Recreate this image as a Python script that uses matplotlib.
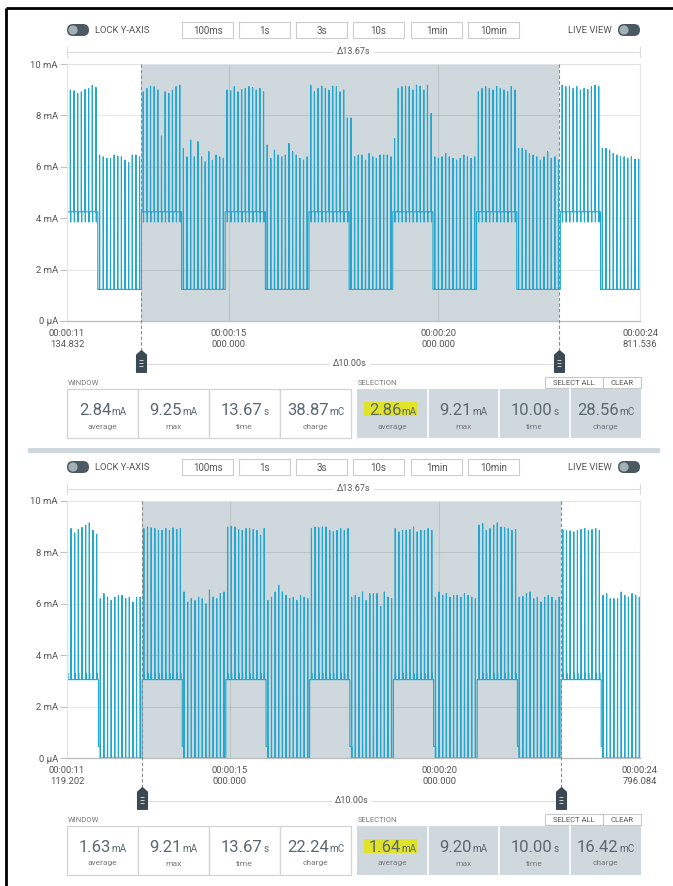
import numpy as np
import matplotlib
matplotlib.use('Agg')
import matplotlib.pyplot as plt
from matplotlib.patches import Rectangle, FancyBboxPatch, Circle
from matplotlib.path import Path

plt.rcParams['font.family'] = ['Roboto', 'DejaVu Sans']

W, H = 673, 886

# ---------------- data ----------------
y_ticks = [0, 2, 4, 6, 8, 10]
y_tick_labels = ['0 µA', '2 mA', '4 mA', '6 mA', '8 mA', '10 mA']
mid_tick_times = [15.0, 20.0]
mid_tick_labels = ['00:00:15\n000.000', '00:00:20\n000.000']
buttons = ['100ms', '1s', '3s', '10s', '1min', '10min']
stat_labels = ['average', 'max', 'time', 'charge']
stat_units = ['mA', 'mA', 's', 'mC']

# panel 1
p1_window = (11.134832, 24.811536)
p1_edge_labels = ['00:00:11\n134.832', '00:00:24\n811.536']
p1_selection = (12.89, 22.89)
p1_high_starts = [10.91, 12.91, 14.91, 16.91, 18.91, 20.91, 22.91]
p1_high_dur = 0.96
p1_cycle = 2.0
p1_base_high = 4.25
p1_base_low = 1.23
p1_dip_high = 3.85
p1_low_step = 1.23
p1_high_spikes = [
    [9.00, 9.00, 9.00, 8.99, 8.96, 8.86, 8.92, 9.01, 9.05, 9.18, 9.09],
    [8.92, 9.05, 9.14, 9.12, 8.99, 7.20, 8.92, 8.86, 8.99, 9.12, 9.18],
    [8.99, 8.96, 9.12, 8.92, 9.01, 9.05, 9.12, 9.08, 8.99, 9.05, 8.92],
    [9.18, 8.92, 9.05, 9.14, 9.05, 8.99, 9.14, 9.12, 8.92, 8.99, 7.90],
    [7.10, 9.05, 9.12, 9.14, 9.12, 8.99, 9.18, 9.14, 8.99, 9.18, 8.08],
    [8.92, 9.05, 9.12, 9.05, 8.99, 9.12, 9.05, 8.99, 8.92, 9.12, 8.99],
    [9.18, 9.12, 9.14, 9.05, 9.12, 8.99, 9.05, 9.01, 9.12, 9.18, 9.12],
]
p1_low_spikes = [
    [6.46, 6.39, 6.33, 6.33, 6.46, 6.42, 6.39, 6.26, 6.16, 6.46, 6.46, 6.39],
    [6.72, 6.39, 7.04, 6.39, 6.98, 6.39, 6.20, 6.59, 6.26, 6.46, 6.39, 6.33],
    [6.85, 6.33, 6.65, 6.46, 6.39, 6.46, 6.91, 6.59, 6.46, 6.33, 6.26, 6.39],
    [7.90, 6.39, 6.46, 6.46, 6.26, 6.52, 6.39, 6.33, 6.46, 6.46, 6.46, 6.39],
    [6.39, 6.33, 6.39, 6.52, 6.39, 6.33, 6.26, 6.33, 6.46, 6.39, 6.33, 6.39],
    [6.72, 6.72, 6.65, 6.52, 6.46, 6.39, 6.26, 6.39, 6.59, 6.33, 6.39, 6.26],
    [6.72, 6.72, 6.65, 6.52, 6.46, 6.39, 6.39, 6.33, 6.39, 6.30, 6.30, 6.25],
]
p1_window_values = ['2.84', '9.25', '13.67', '38.87']
p1_selection_values = ['2.86', '9.21', '10.00', '28.56']

# panel 2
p2_window = (11.119202, 24.796084)
p2_edge_labels = ['00:00:11\n119.202', '00:00:24\n796.084']
p2_selection = (12.92, 22.92)
p2_high_starts = [10.91, 12.91, 14.91, 16.91, 18.91, 20.91, 22.91]
p2_high_dur = 0.96
p2_cycle = 2.0
p2_base_high = 3.05
p2_base_low = 0.0
p2_dip_high = 3.30
p2_low_step = 0.45
p2_high_spikes = [
    [8.90, 8.90, 8.90, 8.93, 8.76, 8.89, 8.97, 9.06, 9.15, 8.86, 8.71],
    [8.93, 8.99, 8.96, 8.93, 8.86, 8.86, 8.93, 8.86, 8.96, 8.89, 8.93],
    [8.99, 9.02, 8.99, 8.89, 8.86, 8.93, 8.93, 8.89, 8.86, 8.67, 8.93],
    [8.93, 8.99, 8.96, 8.99, 8.99, 8.86, 8.80, 8.86, 8.93, 8.86, 8.93],
    [8.93, 8.80, 8.86, 8.86, 8.89, 8.99, 8.80, 8.86, 8.86, 8.93, 8.86],
    [9.06, 9.12, 8.86, 8.93, 9.06, 9.15, 8.99, 8.96, 8.93, 8.86, 8.89],
    [8.89, 8.86, 8.84, 8.80, 8.86, 8.89, 8.93, 8.86, 8.89, 8.93, 8.86],
]
p2_low_spikes = [
    [6.20, 6.40, 6.26, 6.13, 6.26, 6.33, 6.33, 6.20, 6.26, 6.07, 6.26, 6.26],
    [6.46, 6.07, 6.20, 6.13, 6.26, 6.20, 6.00, 6.54, 6.26, 6.20, 6.40, 6.46],
    [6.13, 6.26, 6.46, 6.72, 6.46, 6.33, 6.20, 6.26, 6.13, 6.33, 6.26, 6.20],
    [6.26, 6.33, 6.26, 6.46, 6.13, 6.40, 6.40, 6.40, 5.90, 6.46, 6.26, 6.20],
    [6.26, 6.46, 6.33, 6.40, 6.26, 6.33, 6.33, 6.26, 6.40, 6.33, 6.26, 6.20],
    [6.26, 6.29, 6.40, 6.46, 6.20, 6.26, 6.07, 6.26, 6.33, 6.26, 6.13, 6.26],
    [6.33, 6.40, 6.20, 6.20, 6.20, 6.46, 6.33, 6.26, 6.40, 6.33, 6.26, 6.26],
]
p2_window_values = ['1.63', '9.21', '13.67', '22.24']
p2_selection_values = ['1.64', '9.20', '10.00', '16.42']

# ---------------- styles ----------------
LINE = '#22a8d0'
SHADE = '#cfd8dc'
TXT = '#5c6870'
LAB = '#7a7a7a'
HANDLE = '#3b4a52'


def build_series(starts, high_dur, cycle, bh, bl, dip, hs, ls, step):
    t, y = [], []
    w = 0.004
    for s, hsp, lsp in zip(starts, hs, ls):
        t.append(s); y.append(bh)
        n = len(hsp)
        for k, pk in enumerate(hsp):
            tc = s + (k + 0.5) * high_dur / n
            t += [tc - w, tc, tc + w, tc + 2 * w, tc + 3 * w]
            y += [bh, pk, bh, dip, bh]
        e = s + high_dur
        t += [e, e, e + 0.05, e + 0.05]
        y += [bh, step, step, bl]
        ld = cycle - high_dur
        m = len(lsp)
        for k, pk in enumerate(lsp):
            tc = e + (k + 0.5) * ld / m
            t += [tc - w, tc, tc + w]
            y += [bl, pk, bl]
        t.append(s + cycle); y.append(bl)
    return np.array(t), np.array(y)


fig = plt.figure(figsize=(W / 100, H / 100), dpi=100)
fig.patch.set_facecolor('white')

ui = fig.add_axes([0, 0, 1, 1], zorder=10)
ui.set_xlim(0, W)
ui.set_ylim(H, 0)
ui.axis('off')
ui.patch.set_alpha(0)

renderer = fig.canvas.get_renderer()

handle_path = Path([(0, 1.0), (0.45, 0.6), (0.45, -1.0), (-0.45, -1.0), (-0.45, 0.6), (0, 1.0)],
                   [Path.MOVETO, Path.LINETO, Path.LINETO, Path.LINETO, Path.LINETO, Path.CLOSEPOLY])


def toggle(x, y):
    ui.add_patch(FancyBboxPatch((x, y - 6), 22, 12, boxstyle='round,pad=0,rounding_size=6',
                                fc='#4b5a62', ec='none'))
    ui.add_patch(Circle((x + 6, y), 4.6, fc='#a3b0b6', ec='none'))


def stat_value(cx, yb, num, unit):
    t1 = ui.text(0, yb, num, fontsize=12, color=TXT, ha='left', va='baseline')
    t2 = ui.text(0, yb, unit, fontsize=7.2, color=TXT, ha='left', va='baseline')
    w1 = t1.get_window_extent(renderer).width
    w2 = t2.get_window_extent(renderer).width
    x0 = cx - (w1 + w2) / 2
    t1.set_x(x0)
    t2.set_x(x0 + w1 + 0.3)


def panel(off, window, edge_labels, selection, starts, high_dur, cycle, bh, bl, dip,
          hs, ls, step, win_vals, sel_vals):
    # toolbar
    toggle(67, 30 + off)
    ui.text(95, 30 + off, 'LOCK Y-AXIS', fontsize=6.8, color='#555', va='center', ha='left')
    bx = [182, 239, 296, 353, 411, 468]
    for x, b in zip(bx, buttons):
        ui.add_patch(Rectangle((x, 22 + off), 51, 16, fc='white', ec='#cccccc', lw=0.8))
        ui.text(x + 25.5, 30.5 + off, b, fontsize=7, color='#555', ha='center', va='center')
    ui.text(612, 30 + off, 'LIVE VIEW', fontsize=6.8, color='#555', va='center', ha='right')
    toggle(618, 30 + off)

    # plot
    ax = fig.add_axes([67 / W, 1 - (321 + off) / H, 573 / W, 257 / H], zorder=2)
    ax.set_xlim(*window)
    ax.set_ylim(0, 10)
    ax.axvspan(selection[0], selection[1], color=SHADE, zorder=0.2, lw=0)
    t, y = build_series(starts, high_dur, cycle, bh, bl, dip, hs, ls, step)
    ax.plot(t, y, color=LINE, lw=0.8, zorder=2)
    ax.set_axisbelow(True)
    ax.set_yticks(y_ticks)
    ax.set_yticklabels(y_tick_labels)
    ax.set_xticks([window[0]] + mid_tick_times + [window[1]])
    ax.set_xticklabels([edge_labels[0]] + mid_tick_labels + [edge_labels[1]], linespacing=1.3)
    ax.tick_params(axis='y', length=5, width=0.8, color='#c0c0c0', labelsize=6.8,
                   labelcolor='#555', pad=1.5)
    ax.tick_params(axis='x', length=0, labelsize=6.8, labelcolor='#555', pad=6)
    ax.grid(True, color='black', alpha=0.09, lw=0.8)
    for sp in ['left', 'right', 'top']:
        ax.spines[sp].set_color('#e3e3e3')
        ax.spines[sp].set_linewidth(0.8)
    ax.spines['bottom'].set_color('#bdbdbd')
    ax.spines['bottom'].set_linewidth(0.9)

    xt = ax.get_xaxis_transform()
    ax.plot([window[0], window[1]], [1.047, 1.047], transform=xt, clip_on=False,
            color='#dddddd', lw=0.8)
    for wv in window:
        ax.plot([wv, wv], [1.027, 1.066], transform=xt, clip_on=False, color='#dddddd', lw=0.8)
    ax.text(sum(window) / 2, 1.047, 'Δ13.67s', transform=xt, fontsize=6.5, color='#555',
            ha='center', va='center', bbox=dict(fc='white', ec='none', pad=2.5))

    for s in selection:
        ax.plot([s, s], [1.0, -0.115], transform=xt, clip_on=False, color='#8a8a8a',
                lw=0.8, ls=(0, (3, 2)), zorder=5)
        ax.plot([s], [-0.155], transform=xt, clip_on=False, marker=handle_path,
                markersize=15.5, color=HANDLE, mec=HANDLE, zorder=6)
        for yy in (-0.150, -0.162, -0.174):
            ax.plot([s], [yy], transform=xt, clip_on=False, marker='_', markersize=3.5,
                    mew=0.7, color='#c8d0d4', zorder=7)
    ax.plot([selection[0], selection[1]], [-0.167, -0.167], transform=xt, clip_on=False,
            color='#dddddd', lw=0.8, zorder=1)
    ax.text(sum(selection) / 2, -0.167, 'Δ10.00s', transform=xt, fontsize=6.5, color='#555',
            ha='center', va='center', bbox=dict(fc='white', ec='none', pad=2.5), zorder=4)

    # stats: window
    ui.text(68, 383 + off, 'WINDOW', fontsize=5.5, color=LAB, ha='left', va='center')
    wx = [67, 138, 209, 280, 351]
    for i in range(4):
        ui.add_patch(Rectangle((wx[i], 389 + off), wx[i + 1] - wx[i], 49, fc='white',
                               ec='#d3d3d3', lw=0.9))
        stat_value((wx[i] + wx[i + 1]) / 2, 415 + off, win_vals[i], stat_units[i])
        ui.text((wx[i] + wx[i + 1]) / 2, 426.5 + off, stat_labels[i], fontsize=6, color=LAB,
                ha='center', va='center')

    # stats: selection
    ui.text(358, 383 + off, 'SELECTION', fontsize=5.5, color=LAB, ha='left', va='center')
    ui.add_patch(Rectangle((545, 377 + off), 58, 11, fc='white', ec='#c8c8c8', lw=0.8))
    ui.add_patch(Rectangle((603, 377 + off), 38, 11, fc='white', ec='#c8c8c8', lw=0.8))
    ui.text(574, 382.5 + off, 'SELECT ALL', fontsize=5.5, color='#555', ha='center', va='center')
    ui.text(622, 382.5 + off, 'CLEAR', fontsize=5.5, color='#555', ha='center', va='center')
    sx = [357, 428, 499, 570, 641]
    ui.add_patch(Rectangle((357, 389 + off), 284, 49, fc=SHADE, ec='none'))
    for x in sx[1:-1]:
        ui.plot([x, x], [389 + off, 438 + off], color='white', lw=1.2)
    ui.add_patch(Rectangle((364, 401.5 + off), 53, 14.5, fc='#e0e32a', ec='none'))
    for i in range(4):
        stat_value((sx[i] + sx[i + 1]) / 2, 415 + off, sel_vals[i], stat_units[i])
        ui.text((sx[i] + sx[i + 1]) / 2, 426.5 + off, stat_labels[i], fontsize=6, color=LAB,
                ha='center', va='center')


panel(0, p1_window, p1_edge_labels, p1_selection, p1_high_starts, p1_high_dur, p1_cycle,
      p1_base_high, p1_base_low, p1_dip_high, p1_high_spikes, p1_low_spikes, p1_low_step,
      p1_window_values, p1_selection_values)
panel(437, p2_window, p2_edge_labels, p2_selection, p2_high_starts, p2_high_dur, p2_cycle,
      p2_base_high, p2_base_low, p2_dip_high, p2_high_spikes, p2_low_spikes, p2_low_step,
      p2_window_values, p2_selection_values)

ui.add_patch(Rectangle((28, 448), 632, 4.5, fc=SHADE, ec='none'))

ui.plot([6, W], [8, 8], color='black', lw=2, solid_capstyle='butt')
ui.plot([6, 6], [8, H], color='black', lw=2, solid_capstyle='butt')

fig.savefig('out.png', dpi=100)
